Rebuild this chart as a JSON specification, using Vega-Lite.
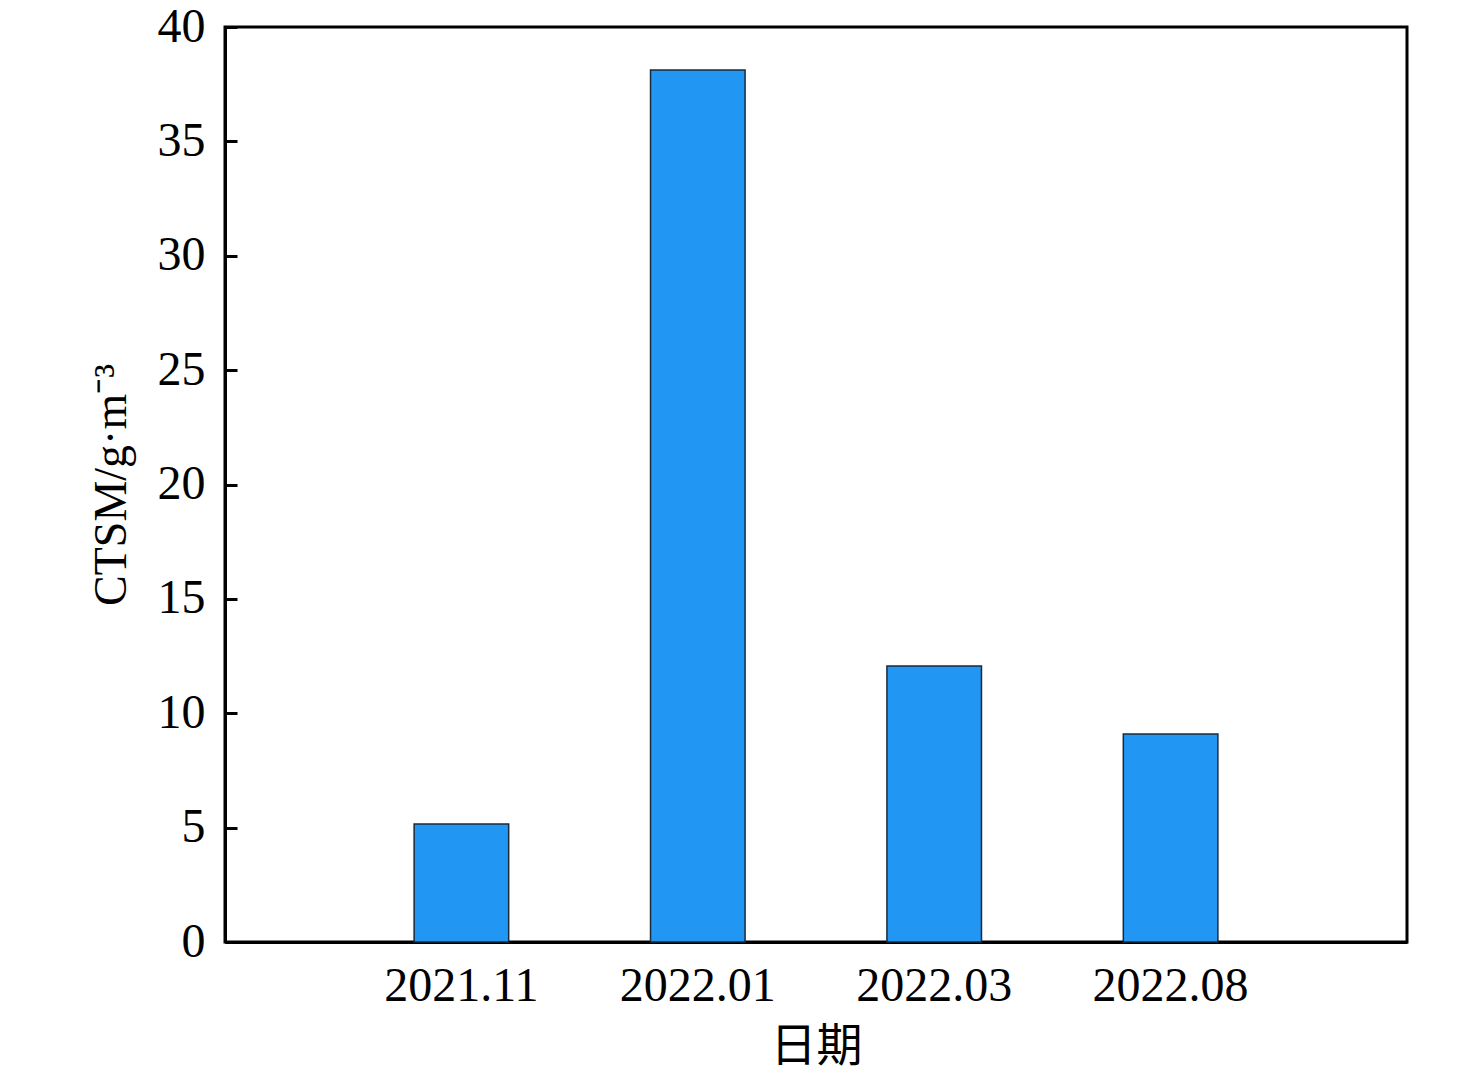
{
  "$schema": "https://vega.github.io/schema/vega-lite/v6.json",
  "width": 1182,
  "height": 915,
  "autosize": {"type": "none"},
  "padding": {"left": 225, "top": 27, "right": 69, "bottom": 135},
  "background": "white",
  "config": {
    "view": {"stroke": "black", "strokeWidth": 3},
    "axis": {
      "grid": false,
      "zindex": 1,
      "domainColor": "black",
      "domainWidth": 3,
      "tickColor": "black",
      "tickWidth": 3,
      "labelFont": "Liberation Serif",
      "labelFontSize": 48,
      "labelColor": "black",
      "titleFont": "Liberation Serif",
      "titleFontSize": 46,
      "titleFontWeight": "normal",
      "titleColor": "black"
    }
  },
  "data": {
    "values": [
      {"date": "2021.11", "value": 5.16},
      {"date": "2022.01", "value": 38.12},
      {"date": "2022.03", "value": 12.07},
      {"date": "2022.08", "value": 9.09}
    ]
  },
  "mark": {"type": "bar", "color": "#2196F3", "stroke": "#1a2a3a", "strokeWidth": 1.5, "width": {"band": 0.4}},
  "encoding": {
    "x": {
      "field": "date",
      "type": "nominal",
      "sort": null,
      "scale": {"paddingInner": 0, "paddingOuter": 0.5},
      "axis": {
        "title": "日期",
        "titleFont": "Noto Sans CJK SC",
        "labelAngle": 0,
        "tickSize": -12,
        "labelPadding": 32,
        "titlePadding": 14
      }
    },
    "y": {
      "field": "value",
      "type": "quantitative",
      "scale": {"domain": [0, 40], "nice": false},
      "axis": {
        "title": "CTSM/g·m⁻³",
        "values": [0, 5, 10, 15, 20, 25, 30, 35, 40],
        "tickSize": -12,
        "labelPadding": 32,
        "titlePadding": 22
      }
    }
  }
}
